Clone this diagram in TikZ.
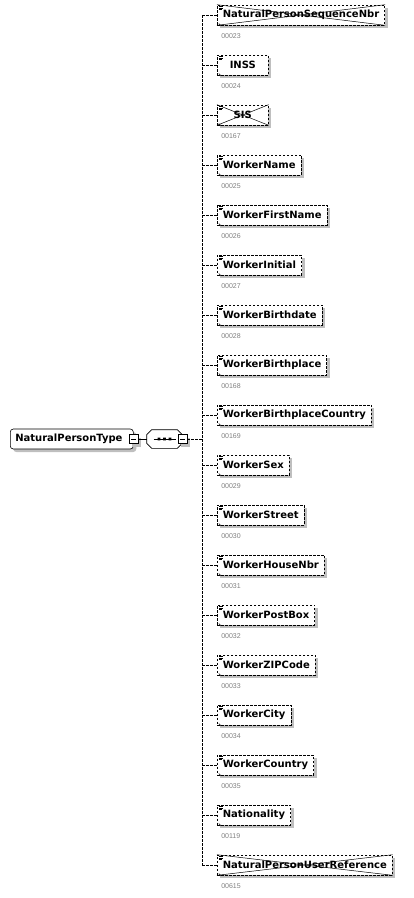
\documentclass[tikz,border=0pt]{standalone}
\usepackage{fontspec}
\setmainfont{DejaVu Sans}
\newfontfamily\numfont{Liberation Sans}
\usetikzlibrary{shadows,arrows.meta}

\tikzset{
  shade3/.style={general shadow={fill=black!25, draw=none, solid, shadow xshift=3pt, shadow yshift=-3pt}},
  elt/.style={draw, dash pattern=on 2.5pt off 1.5pt, fill=white, anchor=west,
    minimum width=51pt, minimum height=20pt, inner xsep=5.5pt, inner ysep=0pt,
    font=\fontsize{10}{12}\selectfont\bfseries, shade3,
    path picture={
      \draw[solid, line width=.5pt] ([xshift=2pt,yshift=-1.5pt]path picture bounding box.north west) -- ++(4pt,0)
        ([xshift=2pt,yshift=-3pt]path picture bounding box.north west) -- ++(4pt,0)
        ([xshift=2pt,yshift=-4.5pt]path picture bounding box.north west) -- ++(3pt,0);
      \draw[solid, line width=.6pt, -{Stealth[length=2pt,width=2pt]}] ([xshift=1.5pt,yshift=1.5pt]path picture bounding box.south west) -- ++(3.5pt,-3.5pt);
    }},
  num/.style={anchor=west, inner sep=0pt, text=black!50, font=\numfont\fontsize{7}{8}\selectfont},
  link/.style={draw, dash pattern=on 2.5pt off 1.5pt, line width=.6pt},
  typ/.style={draw, fill=white, rounded corners=3pt, anchor=west, text width=113pt, align=left,
    minimum height=20pt, inner xsep=5pt, font=\fontsize{10}{12}\selectfont\bfseries, shade3},
  pm/.style={draw, fill=white, minimum size=9pt, inner sep=0pt, shade3,
    path picture={\draw ([xshift=2pt]path picture bounding box.west) -- ([xshift=-2pt]path picture bounding box.east);}},
  seqbox/.style={minimum width=35pt, minimum height=18pt, inner sep=0pt},
  cross/.style={line width=.5pt}
}

\newcommand{\octo}[1]{([xshift=5pt]#1.north west) -- ([xshift=-5pt]#1.north east) -- ([yshift=-5pt]#1.north east)
  -- ([yshift=5pt]#1.south east) -- ([xshift=-5pt]#1.south east) -- ([xshift=5pt]#1.south west)
  -- ([yshift=5pt]#1.south west) -- ([yshift=-5pt]#1.north west) -- cycle}

\begin{document}
\begin{tikzpicture}  % ------ NaturalPersonType : sequence --------------
      [x={(1pt,0pt)},y={(0pt,-1pt)}, line width=.6pt]

    \useasboundingbox (0,0) rectangle (413,898);

    \node[typ] (type) at (10,439) {NaturalPersonType};
    \node[pm] (typepm) at (type.east) {};

    % compositeur séquence
    \node[seqbox] (sq) at (164.5,439) {};
    \fill[black!25, xshift=3pt, yshift=-3pt] \octo{sq};
    \draw[fill=white] \octo{sq};
    \draw ([xshift=-11pt]sq.center) -- ([xshift=11pt]sq.center);
    \fill ([xshift=-5.5pt]sq.center) +(-1.3pt,-1.3pt) rectangle +(1.3pt,1.3pt)
      (sq.center) +(-1.3pt,-1.3pt) rectangle +(1.3pt,1.3pt)
      ([xshift=5.5pt]sq.center) +(-1.3pt,-1.3pt) rectangle +(1.3pt,1.3pt);
    \node[pm] (sqpm) at (sq.east) {};
    \coordinate (bus) at (202,439);

    \node[elt] (c1) at (217,15) {NaturalPersonSequenceNbr};
    \node[elt] (c2) at (217,65) {INSS};
    \node[elt] (c3) at (217,115) {SIS};
    \node[elt] (c4) at (217,165) {WorkerName};
    \node[elt] (c5) at (217,215) {WorkerFirstName};
    \node[elt] (c6) at (217,265) {WorkerInitial};
    \node[elt] (c7) at (217,315) {WorkerBirthdate};
    \node[elt] (c8) at (217,365) {WorkerBirthplace};
    \node[elt] (c9) at (217,415) {WorkerBirthplaceCountry};
    \node[elt] (c10) at (217,465) {WorkerSex};
    \node[elt] (c11) at (217,515) {WorkerStreet};
    \node[elt] (c12) at (217,565) {WorkerHouseNbr};
    \node[elt] (c13) at (217,615) {WorkerPostBox};
    \node[elt] (c14) at (217,665) {WorkerZIPCode};
    \node[elt] (c15) at (217,715) {WorkerCity};
    \node[elt] (c16) at (217,765) {WorkerCountry};
    \node[elt] (c17) at (217,815) {Nationality};
    \node[elt] (c18) at (217,865) {NaturalPersonUserReference};

    % numéros sous les éléments
    \node[num] (n1) at ([xshift=4pt,yshift=-11pt]c1.south west) {00023};
    \node[num] (n2) at ([xshift=4pt,yshift=-11pt]c2.south west) {00024};
    \node[num] (n3) at ([xshift=4pt,yshift=-11pt]c3.south west) {00167};
    \node[num] (n4) at ([xshift=4pt,yshift=-11pt]c4.south west) {00025};
    \node[num] (n5) at ([xshift=4pt,yshift=-11pt]c5.south west) {00026};
    \node[num] (n6) at ([xshift=4pt,yshift=-11pt]c6.south west) {00027};
    \node[num] (n7) at ([xshift=4pt,yshift=-11pt]c7.south west) {00028};
    \node[num] (n8) at ([xshift=4pt,yshift=-11pt]c8.south west) {00168};
    \node[num] (n9) at ([xshift=4pt,yshift=-11pt]c9.south west) {00169};
    \node[num] (n10) at ([xshift=4pt,yshift=-11pt]c10.south west) {00029};
    \node[num] (n11) at ([xshift=4pt,yshift=-11pt]c11.south west) {00030};
    \node[num] (n12) at ([xshift=4pt,yshift=-11pt]c12.south west) {00031};
    \node[num] (n13) at ([xshift=4pt,yshift=-11pt]c13.south west) {00032};
    \node[num] (n14) at ([xshift=4pt,yshift=-11pt]c14.south west) {00033};
    \node[num] (n15) at ([xshift=4pt,yshift=-11pt]c15.south west) {00034};
    \node[num] (n16) at ([xshift=4pt,yshift=-11pt]c16.south west) {00035};
    \node[num] (n17) at ([xshift=4pt,yshift=-11pt]c17.south west) {00119};
    \node[num] (n18) at ([xshift=4pt,yshift=-11pt]c18.south west) {00615};

    % éléments barrés
    \draw[cross] (c1.north west) -- (c1.south east) (c1.south west) -- (c1.north east);
    \draw[cross] (c3.north west) -- (c3.south east) (c3.south west) -- (c3.north east);
    \draw[cross] (c18.north west) -- (c18.south east) (c18.south west) -- (c18.north east);

    \draw (typepm) -- (sq);
    \draw[link] (sqpm) -- (bus);
    \draw[link] (bus |- c1.west) -- (bus |- c18.west);
    \foreach \i in {1,...,18} \draw[link] (bus |- c\i.west) -- (c\i.west);
\end{tikzpicture}
\end{document}
